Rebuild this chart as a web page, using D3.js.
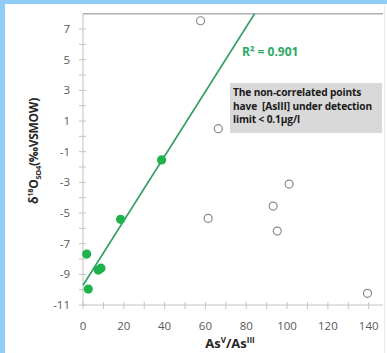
<!DOCTYPE html>
<html>
<head>
<meta charset="utf-8">
<script src="https://cdn.jsdelivr.net/npm/d3@7"></script>
<style>
  body { margin: 0; background: #fff; }
  svg { display: block; font-family: 'Open Sans', 'Liberation Sans', sans-serif; }
</style>
</head>
<body>
<div id="chart"></div>
<script>
// correlated samples (filled green)
var corrX = [1.8, 2.6, 7.5, 8.8, 18.4, 38.5]
var corrY = [-7.68, -9.96, -8.72, -8.6, -5.41, -1.54]

// non-correlated samples (open circles)
var openX = [57.6, 66.3, 61.3, 93.2, 95.2, 101, 139.4]
var openY = [7.54, 0.5, -5.35, -4.55, -6.18, -3.11, -10.24]

var xTicks = [0, 20, 40, 60, 80, 100, 120, 140]
var yTicks = [-11, -9, -7, -5, -3, -1, 1, 3, 5, 7]
var r2Label = 'R² = 0.901'
var noteLines = ['The non-correlated points', 'have  [AsIII] under detection', 'limit < 0.1µg/l']

var W = 387, H = 353
var svg = d3.select('#chart').append('svg').attr('width', W).attr('height', H)

// light blue frame on top and left
svg.append('rect').attr('x', 0).attr('y', 0).attr('width', W).attr('height', 4).attr('fill', '#8fcdf6')
svg.append('rect').attr('x', 0).attr('y', 0).attr('width', 5).attr('height', H).attr('fill', '#8fcdf6')
svg.append('line').attr('x1', 384.5).attr('x2', 384.5).attr('y1', 4).attr('y2', H)
  .attr('stroke', '#ececec')

var x = d3.scaleLinear().domain([0, 147]).range([83, 383])
var y = d3.scaleLinear().domain([-11, 8]).range([305, 13.7])

var axisColor = '#c4c4c4'

// top border
svg.append('line').attr('x1', x(0)).attr('x2', x(147)).attr('y1', y(8)).attr('y2', y(8))
  .attr('stroke', '#b0b0b0').attr('stroke-width', 1.5)

// x axis
var xg = svg.append('g').attr('transform', `translate(0,${y(-11)})`)
xg.append('line').attr('x1', x(0)).attr('x2', x(147)).attr('stroke', axisColor)
xg.selectAll('line.tk').data(d3.range(0, 147, 10)).join('line').attr('class', 'tk')
  .attr('x1', d => x(d)).attr('x2', d => x(d)).attr('y1', -3).attr('y2', 4)
  .attr('stroke', axisColor)
xg.selectAll('text').data(xTicks).join('text')
  .attr('x', d => x(d)).attr('y', 25)
  .attr('text-anchor', 'middle').attr('font-size', 11.5).attr('fill', '#595959')
  .text(d => d)

// y axis
var yg = svg.append('g').attr('transform', `translate(${x(0)},0)`)
yg.append('line').attr('y1', y(-11)).attr('y2', y(8)).attr('stroke', axisColor)
yg.selectAll('line.tk').data(d3.range(-11, 8, 1)).join('line').attr('class', 'tk')
  .attr('y1', d => y(d)).attr('y2', d => y(d)).attr('x1', -4).attr('x2', 3)
  .attr('stroke', axisColor)
yg.selectAll('text').data(yTicks).join('text')
  .attr('x', -13).attr('y', d => y(d)).attr('dy', '0.35em')
  .attr('text-anchor', 'end').attr('font-size', 11.5).attr('fill', '#595959')
  .text(d => d)

// axis titles
var yt = svg.append('text')
  .attr('transform', 'translate(38,151) rotate(-90)')
  .attr('text-anchor', 'middle').attr('font-weight', 700).attr('font-size', 12).attr('fill', '#262626')
  .attr('letter-spacing', -0.3)
yt.append('tspan').text('δ')
yt.append('tspan').text('18').attr('font-size', 7.5).attr('dy', -5)
yt.append('tspan').text('O').attr('dy', 5)
yt.append('tspan').text('SO4').attr('font-size', 7.5).attr('dy', 3)
yt.append('tspan').text('(‰VSMOW)').attr('dy', -3)

var xt = svg.append('text').attr('x', 230).attr('y', 348)
  .attr('text-anchor', 'middle').attr('font-weight', 700).attr('font-size', 13).attr('fill', '#262626')
xt.append('tspan').text('As')
xt.append('tspan').text('V').attr('font-size', 8).attr('dy', -5)
xt.append('tspan').text('/As').attr('dy', 5)
xt.append('tspan').text('III').attr('font-size', 8).attr('dy', -5)

// linear fit of the correlated points
var mx = d3.mean(corrX), my = d3.mean(corrY)
var sxy = d3.sum(corrX, (v, i) => (v - mx) * (corrY[i] - my))
var sxx = d3.sum(corrX, v => (v - mx) * (v - mx))
var slope = sxy / sxx, icpt = my - slope * mx
var xEnd = (8 - icpt) / slope

svg.append('line')
  .attr('x1', x(0)).attr('y1', y(icpt))
  .attr('x2', x(xEnd)).attr('y2', y(8))
  .attr('stroke', '#2e9e63').attr('stroke-width', 1.6)

// open circles
svg.selectAll('circle.open').data(openX).join('circle').attr('class', 'open')
  .attr('cx', d => x(d)).attr('cy', (d, i) => y(openY[i])).attr('r', 4)
  .attr('fill', '#fff').attr('stroke', '#8a8a8a').attr('stroke-width', 1.2)

// filled green
svg.selectAll('circle.fill').data(corrX).join('circle').attr('class', 'fill')
  .attr('cx', d => x(d)).attr('cy', (d, i) => y(corrY[i])).attr('r', 4.6)
  .attr('fill', '#1db24b')

// R2 label
svg.append('text').attr('x', 242).attr('y', 56)
  .attr('font-size', 12).attr('font-weight', 700).attr('fill', '#2ba865')
  .text(r2Label)

// note box
svg.append('rect').attr('x', 230).attr('y', 83).attr('width', 152).attr('height', 50).attr('fill', '#d9d9d9')
svg.append('g').selectAll('text').data(noteLines).join('text')
  .attr('x', 233).attr('y', (d, i) => 96 + i * 13.5)
  .attr('font-size', 10.2).attr('font-weight', 700).attr('fill', '#1a1a1a')
  .attr('letter-spacing', -0.15)
  .style('white-space', 'pre')
  .text(d => d)
</script>
</body>
</html>
